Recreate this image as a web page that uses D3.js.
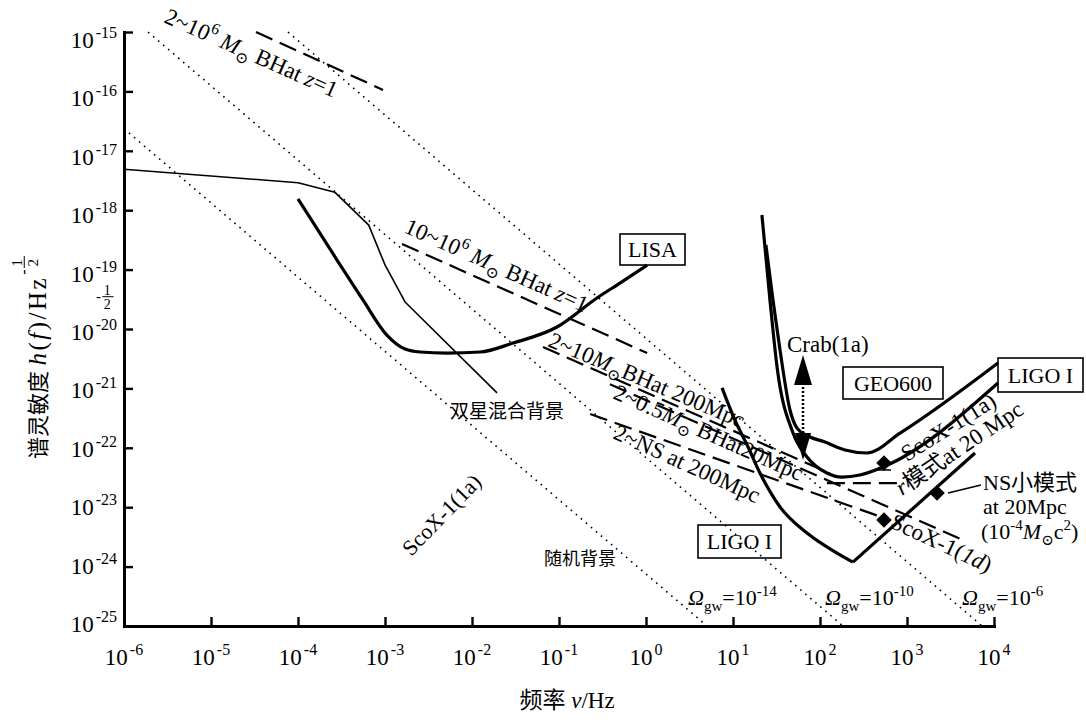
<!DOCTYPE html>
<html>
<head>
<meta charset="utf-8">
<script src="https://cdn.jsdelivr.net/npm/d3@7"></script>
<style>
  body { margin: 0; background: #fff; }
  svg { display: block; font-family: "Liberation Serif", "DejaVu Serif", "Noto Sans CJK SC", serif; }
</style>
</head>
<body>
<svg id="chart" width="1086" height="727"></svg>
<script>
// ---- axis ticks ----
const xTickValues = [1e-6, 1e-5, 1e-4, 1e-3, 1e-2, 1e-1, 1e0, 1e1, 1e2, 1e3, 1e4];
const xTickExps   = ["-6", "-5", "-4", "-3", "-2", "-1", "0", "1", "2", "3", "4"];
const yTickValues = [1e-15, 1e-16, 1e-17, 1e-18, 1e-19, 1e-20, 1e-21, 1e-22, 1e-23, 1e-24, 1e-25];
const yTickExps   = ["-15", "-16", "-17", "-18", "-19", "-20", "-21", "-22", "-23", "-24", "-25"];

// ---- sensitivity curves: [frequency Hz, strain Hz^-1/2] ----
const binaryBackground = [[1.0e-6, 4.9e-18], [1.0e-4, 2.9e-18], [2.66e-4, 2.0e-18], [6.5e-4, 5.6e-19],
                          [1.0e-3, 1.2e-19], [1.7e-3, 2.85e-20], [1.94e-2, 8.4e-22]];
const lisa = [[1.0e-4, 1.55e-18], [2.81e-4, 1.45e-19], [5.58e-4, 3.08e-20], [1.05e-3, 7.9e-21],
              [1.70e-3, 4.6e-21], [2.52e-3, 4.1e-21], [5.16e-3, 3.94e-21], [1.24e-2, 4.1e-21],
              [2.96e-2, 5.8e-21], [9.48e-2, 1.08e-20], [0.273, 3.33e-20], [0.502, 5.94e-20], [1.03, 1.19e-19]];
const ligoLow = [[7.48, 1.02e-21], [10.5, 2.94e-22], [14.9, 1.03e-22], [20.4, 3.77e-23], [34.7, 1.01e-23],
                 [70.9, 3.68e-24], [157, 1.69e-24], [239, 1.19e-24]];
const ligoLowRise = [[239, 1.19e-24], [6050, 8.17e-23]];
const ligoOuter = [[21.5, 8.3e-19], [26.6, 3.08e-20], [32.1, 2.29e-21], [49.0, 1.77e-22], [70.9, 7.0e-23],
                   [120, 3.77e-23], [179, 3.22e-23], [288, 3.48e-23], [530, 4.75e-23], [11100, 1.23e-21]];
const geoInner = [[23.9, 2.59e-19], [28.8, 3.08e-20], [34.7, 4.43e-21], [45.2, 4.33e-22], [54.4, 2.15e-22],
                  [72.8, 1.58e-22], [114, 1.25e-22], [194, 9.19e-23], [347, 8.17e-23], [832, 1.77e-22],
                  [11100, 2.68e-21]];

// ---- stochastic background levels Omega_gw (dotted) ----
const omegaLines = [
  { label: "-14", pts: [[1.14e-6, 2.0e-17], [5.02, 1e-25]] },
  { label: "-10", pts: [[1.89e-6, 1.0e-15], [183.6, 1e-25]] },
  { label: "-6",  pts: [[7.67e-5, 1.0e-15], [7280, 1e-25]] }
];

// ---- source tracks (dashed) ----
const bhZ1Heavy   = [[3.29e-5, 1.0e-15], [9.48e-4, 1.06e-16]];
const bhZ1Light   = [[1.57e-3, 2.70e-19], [1.03, 3.94e-21]];
const bh200Mpc    = [[0.0655, 4.98e-21], [130, 3.7e-23]];
const bh20Mpc     = [[0.385, 1.17e-21], [4400, 2.8e-24]];
const ns200Mpc    = [[0.228, 3.7e-22], [545, 6.6e-24]];
const rMode20Mpc  = [[120, 2.55e-23], [832, 2.55e-23]];

// ---- point sources ----
const scoX1a = [544, 5.55e-23];
const scoX1d = [544, 6.1e-24];
const nsModes = [2213, 1.73e-23];
const crabFreq = 63.8;
const crabRange = [1.77e-22, 3.65e-21];

const svg = d3.select("#chart");
const x = d3.scaleLog().domain([1e-6, 1e4]).range([124, 994]);
const y = d3.scaleLog().domain([1e-25, 1e-15]).range([626, 32]);
const yLabel = d3.scaleLog().domain([1e-25, 1e-15]).range([632, 48]);

// rich text: parts are [text, flags]; flags: i italic, ^ superscript, _ subscript, + small gap
function rich(parent, parts, attrs, supScale) {
  const t = parent.append("text");
  Object.entries(attrs || {}).forEach(([k, v]) => t.attr(k, v));
  const fs = +(t.attr("font-size") || 20);
  const sc = supScale || 0.68;
  let shift = 0;
  parts.forEach(([txt, fl = ""]) => {
    const s = t.append("tspan").text(txt);
    let target = 0;
    if (fl.includes("^")) { target = -Math.round(fs * 0.42); s.attr("font-size", Math.round(fs * sc)); }
    if (fl.includes("_")) { target = Math.round(fs * 0.25); s.attr("font-size", Math.round(fs * sc)); }
    if (target - shift !== 0) s.attr("dy", target - shift);
    if (fl.includes("+")) s.attr("dx", 2);
    shift = target;
    if (fl.includes("i")) s.attr("font-style", "italic");
  });
  return t;
}

// ---- axes ----
const xAxis = d3.axisBottom(x).tickValues(xTickValues).tickSizeInner(-9).tickSizeOuter(0).tickFormat("");
const yAxis = d3.axisLeft(y).tickValues(yTickValues).tickSizeInner(-9).tickSizeOuter(0).tickFormat("");
const gx = svg.append("g").attr("transform", "translate(0,626)").call(xAxis);
const gy = svg.append("g").attr("transform", "translate(124,0)").call(yAxis);
[gx, gy].forEach(g => {
  g.select(".domain").attr("stroke", "#000").attr("stroke-width", 3).attr("stroke-linecap", "square");
  g.selectAll(".tick line").attr("stroke", "#000").attr("stroke-width", 2.4);
});

xTickValues.forEach((v, i) => {
  rich(svg, [["10"], [xTickExps[i], "^+"]], { x: x(v), y: 665, "font-size": 23, "text-anchor": "middle" }, 0.7);
});
yTickValues.forEach((v, i) => {
  rich(svg, [["10"], [yTickExps[i], "^+"]], { x: 117, y: yLabel(v), "font-size": 23, "text-anchor": "end" }, 0.7);
});

// axis titles
rich(svg, [["频率 "], ["ν", "i"], ["/Hz"]], { x: 567, y: 708, "font-size": 23, "text-anchor": "middle" });
const yt = svg.append("g").attr("transform", "translate(46,459) rotate(-90)");
const ytText = yt.append("text").attr("x", 0).attr("y", 0).attr("font-size", 22);
ytText.append("tspan").text("谱灵敏度 ");
[["h", true], ["(", false], ["f", true], [")/Hz", false]].forEach(([t, it]) => {
  const s = ytText.append("tspan").text(t).attr("font-size", 25).attr("letter-spacing", 2.5);
  if (it) s.attr("font-style", "italic");
});
const ytLen = ytText.node().getComputedTextLength();
function halfFrac(g, x0, y0, fs) {
  g.append("text").attr("x", x0).attr("y", y0 - 2).attr("font-size", fs + 1).text("-");
  g.append("text").attr("x", x0 + fs * 0.55).attr("y", y0 - fs * 0.6).attr("font-size", fs).text("1");
  g.append("line").attr("x1", x0 + fs * 0.45).attr("x2", x0 + fs * 1.25)
    .attr("y1", y0 - fs * 0.45).attr("y2", y0 - fs * 0.45).attr("stroke", "#000").attr("stroke-width", 1);
  g.append("text").attr("x", x0 + fs * 0.55).attr("y", y0 + fs * 0.45).attr("font-size", fs).text("2");
}
halfFrac(yt, ytLen + 1, -15, 15);
halfFrac(svg, 96, 303, 14);

// ---- line helpers ----
const line = d3.line().x(d => x(d[0])).y(d => y(d[1]));
const smooth = d3.line().x(d => x(d[0])).y(d => y(d[1])).curve(d3.curveMonotoneX);
function path(data, gen, w, dash) {
  const p = svg.append("path").datum(data).attr("d", gen).attr("fill", "none")
    .attr("stroke", "#000").attr("stroke-width", w).attr("stroke-linejoin", "round");
  if (dash) p.attr("stroke-dasharray", dash);
  return p;
}

// stochastic background levels
omegaLines.forEach(o => path(o.pts, line, 1.6, "1.6 5"));

// source tracks
[bhZ1Heavy, bhZ1Light, bh200Mpc, bh20Mpc, ns200Mpc, rMode20Mpc].forEach(d => path(d, line, 2.2, "18 8"));

// detector curves
path(binaryBackground, line, 1.6);
path(lisa, smooth, 3.2);
path(ligoLow, smooth, 3.2);
path(ligoLowRise, line, 3.2);
path(ligoOuter, smooth, 3.2);
path(geoInner, smooth, 3.2);

// Crab upper limit arrow
const cx = x(crabFreq);
svg.append("line").attr("x1", cx).attr("x2", cx).attr("y1", y(crabRange[0])).attr("y2", y(crabRange[1]) + 28)
  .attr("stroke", "#000").attr("stroke-width", 2.5).attr("stroke-dasharray", "2 2");
svg.append("path").attr("d", `M${cx},${y(crabRange[1])}L${cx - 9},${y(crabRange[1]) + 30}L${cx + 9},${y(crabRange[1]) + 30}Z`);
svg.append("path").attr("d", `M${cx - 8},${y(crabRange[0])}L${cx + 8},${y(crabRange[0])}L${cx},${y(crabRange[0]) + 27}Z`);

// point sources
[scoX1a, scoX1d, nsModes].forEach(p => {
  svg.append("rect").attr("x", -5.5).attr("y", -5.5).attr("width", 11).attr("height", 11)
    .attr("transform", `translate(${x(p[0])},${y(p[1])}) rotate(45)`);
});
svg.append("line").attr("x1", x(scoX1a[0]) - 7).attr("x2", x(scoX1a[0]) + 7)
  .attr("y1", y(scoX1a[1]) + 7).attr("y2", y(scoX1a[1]) + 7).attr("stroke", "#000").attr("stroke-width", 1.5);
svg.append("line").attr("x1", x(nsModes[0]) + 11).attr("y1", y(nsModes[1]))
  .attr("x2", x(nsModes[0]) + 44).attr("y2", y(nsModes[1]) - 8).attr("stroke", "#000").attr("stroke-width", 1.5);

// ---- boxed detector names ----
function box(cx0, cy0, w, h, label) {
  svg.append("rect").attr("x", cx0 - w / 2).attr("y", cy0 - h / 2).attr("width", w).attr("height", h)
    .attr("fill", "none").attr("stroke", "#000").attr("stroke-width", 1.6);
  svg.append("text").attr("x", cx0).attr("y", cy0 + 7.5).attr("text-anchor", "middle").attr("font-size", 22).text(label);
}
box(652.5, 249.5, 65, 31, "LISA");
box(893, 383, 100, 32, "GEO600");
box(1040.5, 375, 85, 34, "LIGO I");
box(739.5, 541.5, 83, 33, "LIGO I");

// ---- annotations ----
function rotLabel(px, py, angle, parts, fs, anchor) {
  const g = svg.append("g").attr("transform", `translate(${px},${py}) rotate(${angle})`);
  rich(g, parts, { x: 0, y: 0, "font-size": fs, "text-anchor": anchor || "start" });
}
rotLabel(163, 22, 24, [["2~10"], ["6", "^"], [" "], ["M", "i"], ["⊙", "_"], [" BHat "], ["z", "i"], ["=1"]], 23);
rotLabel(403, 232, 24, [["10~10"], ["6", "^"], [" "], ["M", "i"], ["⊙", "_"], [" BHat "], ["z", "i"], ["=1"]], 23);
rotLabel(547, 346, 23, [["2~10"], ["M", "i"], ["⊙", "_"], ["BHat 200Mpc"]], 23);
rotLabel(612, 398, 24, [["2~0.5"], ["M", "i"], ["⊙", "_"], [" BHat20Mpc"]], 23);
rotLabel(612, 438, 24.5, [["2~NS at 200Mpc"]], 23);
rotLabel(447, 520, -46, [["ScoX-1(1a)"]], 22, "middle");
rotLabel(907, 462, -32, [["ScoX-1(1a)"]], 23);
rotLabel(902, 496, -34, [["r", "i"], ["模式at 20 Mpc"]], 23);
rotLabel(889, 527, 25, [["ScoX-1("], ["1d", "i"], [")"]], 23);

svg.append("text").attr("x", 450).attr("y", 418).attr("font-size", 19).text("双星混合背景");
svg.append("text").attr("x", 544).attr("y", 565).attr("font-size", 18).text("随机背景");
svg.append("text").attr("x", 787).attr("y", 352).attr("font-size", 23).text("Crab(1a)");
svg.append("text").attr("x", 983).attr("y", 490).attr("font-size", 22).text("NS小模式");
svg.append("text").attr("x", 983).attr("y", 514).attr("font-size", 22).text("at 20Mpc");
rich(svg, [["(10"], ["-4", "^"], ["M", "i"], ["⊙", "_"], ["c"], ["2", "^"], [")"]], { x: 981, y: 539, "font-size": 22 });

const omegaLabelX = [688, 825, 962];
omegaLines.forEach((o, i) => {
  rich(svg, [["Ω", "i"], ["gw", "_"], ["=10"], [o.label, "^"]], { x: omegaLabelX[i], y: 605, "font-size": 22 });
});
</script>
</body>
</html>
